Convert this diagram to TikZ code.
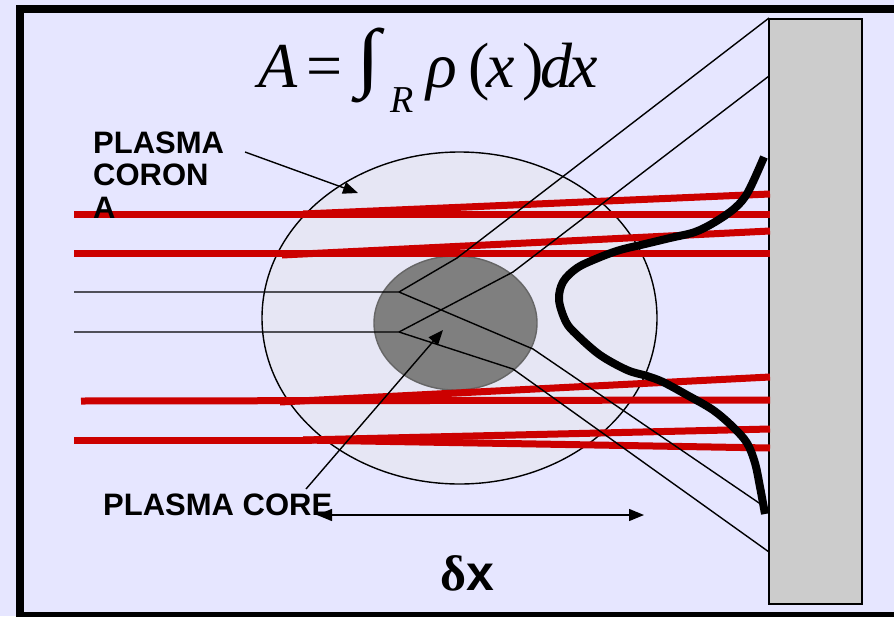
\documentclass[tikz,border=0pt]{standalone}
\usepackage{fontspec}
\usepackage{graphicx}
\setmainfont{Liberation Sans}
\newfontfamily\eqfont{Liberation Serif}
\usetikzlibrary{arrows.meta}
\definecolor{bg}{HTML}{E6E6FF}
\definecolor{corona}{HTML}{E6E6F4}
\definecolor{core}{HTML}{7F7F7F}
\definecolor{coreedge}{HTML}{666666}
\definecolor{wall}{HTML}{CCCCCC}
\definecolor{beam}{HTML}{CC0000}
\begin{document}
\begin{tikzpicture}[x=1pt,y=-1pt,
  beamline/.style={beam,line width=7pt},
  ray/.style={black,line width=1.4pt},
  lbl/.style={font=\fontsize{31}{31}\selectfont\bfseries,anchor=base west,inner sep=0pt},
  eqit/.style={font=\eqfont\itshape\fontsize{64}{64}\selectfont,anchor=base west,inner sep=0pt},
  equp/.style={font=\eqfont\fontsize{64}{64}\selectfont,anchor=base west,inner sep=0pt},
  tip/.style={-{Triangle[length=15pt,width=12pt]},line width=1.4pt}]
\useasboundingbox (0,0) rectangle (894,616);
\fill[bg] (0,0) rectangle (894,616);
\draw[line width=7.5pt] (20,9) rectangle (910,615.5);

% plasma corona and core
\draw[fill=corona,line width=1.4pt] (459.5,318) ellipse [x radius=197.5pt,y radius=166pt];
\draw[fill=core,draw=coreedge,line width=1.4pt] (455.5,323) ellipse [x radius=81.5pt,y radius=67pt];

% detector wall
\node[draw,fill=wall,line width=1.4pt,minimum width=93pt,minimum height=585pt,inner sep=0pt] (wall) at (815.5,311.5) {};

% red beams
\coordinate (b1L) at (74,214);  \coordinate (b1R) at (770,214);
\coordinate (b1S) at (303,214); \coordinate (b1T) at (770,194);
\coordinate (b2L) at (74,253);  \coordinate (b2R) at (770,253);
\coordinate (b2S) at (282,255); \coordinate (b2T) at (770,231);
\coordinate (b3L) at (81,401);  \coordinate (b3R) at (770,400);
\coordinate (b3S) at (280,402); \coordinate (b3T) at (770,377);
\coordinate (b4L) at (74,440);  \coordinate (b4M) at (312,440);
\coordinate (b4S) at (303,440); \coordinate (b4T) at (770,429); \coordinate (b4B) at (770,448);
\draw[beamline] (b1L) -- (b1R);
\draw[beamline] (b1S) -- (b1T);
\draw[beamline] (b2L) -- (b2R);
\draw[beamline] (b2S) -- (b2T);
\draw[beamline] (b3L) -- (b3R);
\draw[beamline] (b3S) -- (b3T);
\draw[beamline] (b4L) -- (b4M);
\draw[beamline] (b4S) -- (b4T);
\draw[beamline] (b4S) -- (b4B);

% black rays
\coordinate (r1L) at (74,292);  \coordinate (r1C) at (399,292);
\coordinate (r2L) at (74,332);  \coordinate (r2C) at (399,332);
\coordinate (k1) at (457,258);  \coordinate (e1) at (769,18);
\coordinate (k2) at (533,349);  \coordinate (e2) at (762,505);
\coordinate (k3) at (513,272);  \coordinate (e3) at (769,76);
\coordinate (k4) at (513,369);  \coordinate (e4) at (769,552);
\draw[ray] (r1L) -- (r1C) -- (k1) -- (e1);
\draw[ray] (r1C) -- (k2) -- (e2);
\draw[ray] (r2L) -- (r2C) -- (k3) -- (e3);
\draw[ray] (r2C) -- (k4) -- (e4);

% intensity profile
\draw[line width=8pt] plot[smooth,tension=0.55] coordinates {
 (764,157) (748,192) (735,208) (715,222) (695,232) (670,238) (645,244) (620,250)
 (598,258) (577,268) (563,282) (559,300) (566,322) (577,335) (600,355) (627,370)
 (647,376) (663,382) (687,395) (713,410) (733,427) (747,443) (755,463) (760,487) (765,514)};

% formula
\node[eqit] (eqA) at (258,87) {A};
\node[equp] (eqEq) at (306,87) {=};
\node[font=\eqfont\fontsize{64}{64}\selectfont,anchor=north west,inner sep=0pt] (eqInt) at (356,28) {\resizebox*{24pt}{75pt}{∫}};
\node[font=\eqfont\itshape\fontsize{38}{38}\selectfont,anchor=base west,inner sep=0pt] (eqR) at (390,112) {R};
\node[eqit] (eqRho) at (426,87) {ρ};
\node[equp] (eqLp) at (468,87) {(};
\node[eqit] (eqX) at (486,87) {x};
\node[equp] (eqRp) at (522,87) {)};
\node[eqit] (eqD) at (540,87) {d};
\node[eqit] (eqX2) at (569,87) {x};

% labels
\node[lbl] (corA) at (93,153) {PLASMA};
\node[lbl] (corB) at (93,185.5) {CORON};
\node[lbl] (corC) at (93,218) {A};
\node[lbl] (coreL) at (103,515) {PLASMA CORE};
\node[font=\fontsize{50}{50}\selectfont\bfseries,anchor=base west,inner sep=0pt] (dx) at (440,590) {{\eqfont δ}x};

% arrows
\coordinate (cA) at (245,152); \coordinate (cT) at (358,193);
\draw[tip] (cA) -- (cT);
\coordinate (kA) at (306,489); \coordinate (kT) at (443,330);
\draw[tip] (kA) -- (kT);
\coordinate (dL) at (317,515); \coordinate (dR) at (644,515);
\draw[{Triangle[length=15pt,width=12pt]}-{Triangle[length=15pt,width=12pt]},line width=1.4pt] (dL) -- (dR);
\end{tikzpicture}
\end{document}
